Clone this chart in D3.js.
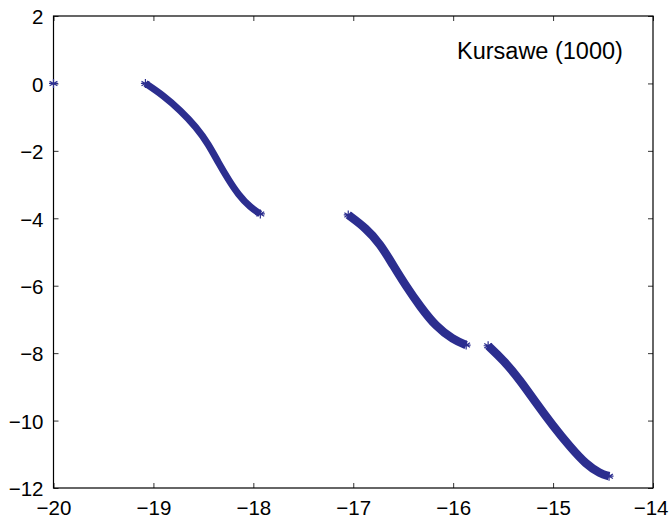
<!DOCTYPE html>
<html>
<head>
<meta charset="utf-8">
<script src="https://cdn.jsdelivr.net/npm/d3@7"></script>
<style>
  body { margin: 0; background: #fff; }
  svg text { font-family: "Liberation Sans", Arial, Helvetica, sans-serif; fill: #000; }
</style>
</head>
<body>
<div class="C"></div>
<script>
// Kursawe front, points (f1, f2)
var isolated = [[-20.0, 0.0]];
var seg1 = [[-19.08, 0.0], [-18.90, -0.36], [-18.73, -0.80], [-18.57, -1.30], [-18.45, -1.80],
            [-18.35, -2.35], [-18.25, -2.85], [-18.15, -3.30], [-18.03, -3.68], [-17.93, -3.87]];
var seg2 = [[-17.05, -3.90], [-16.87, -4.30], [-16.73, -4.76], [-16.60, -5.40], [-16.47, -6.02],
            [-16.33, -6.62], [-16.17, -7.22], [-16.00, -7.60], [-15.87, -7.76]];
var seg3 = [[-15.65, -7.78], [-15.50, -8.20], [-15.33, -8.80], [-15.17, -9.48], [-15.00, -10.16],
            [-14.83, -10.78], [-14.67, -11.30], [-14.53, -11.57], [-14.44, -11.65]];
var xTicks = [-20, -19, -18, -17, -16, -15, -14];
var yTicks = [2, 0, -2, -4, -6, -8, -10, -12];
var label = 'Kursawe (1000)';

var width = 669, height = 518;
var blue = '#2c2e8f';

var svg = d3.select('.C').append('svg').attr('width', width).attr('height', height);

var x = d3.scaleLinear().domain([-20, -14]).range([53.5, 653]);
var y = d3.scaleLinear().domain([-12, 2]).range([488, 16]);

var fmt = d3.format('d');

// axes, ticks pointing inwards on all four sides
var gx = svg.append('g').attr('transform', 'translate(0,488)')
    .call(d3.axisBottom(x).tickValues(xTicks).tickFormat(fmt).tickSize(-5).tickPadding(13));
var gy = svg.append('g').attr('transform', 'translate(53.5,0)')
    .call(d3.axisLeft(y).tickValues(yTicks).tickFormat(fmt).tickSize(-5).tickPadding(10));
var gt = svg.append('g').attr('transform', 'translate(0,16)')
    .call(d3.axisTop(x).tickValues(xTicks).tickFormat('').tickSize(-5));
var gr = svg.append('g').attr('transform', 'translate(653,0)')
    .call(d3.axisRight(y).tickValues(yTicks).tickFormat('').tickSize(-5));

[gx, gy, gt, gr].forEach(function (g) {
    g.select('.domain').remove();
    g.selectAll('line').attr('stroke', '#333').attr('stroke-width', 1);
    g.selectAll('text').style('font-size', '20.5px').attr('fill', '#000')
        .style('font-family', '"Liberation Sans", Arial, Helvetica, sans-serif');
});
gx.selectAll('text').attr('dy', '0.69em');
gy.selectAll('text').attr('dy', '0.38em');
// last label sits against the right edge of the window
gx.selectAll('text').filter(function (d) { return d === -14; })
    .attr('text-anchor', 'end').attr('x', 15);

// frame
svg.append('rect')
    .attr('x', x(-20)).attr('y', y(2))
    .attr('width', x(-14) - x(-20)).attr('height', y(-12) - y(2))
    .attr('fill', 'none').attr('stroke', '#000').attr('stroke-width', 1.2);

// dense bands of markers drawn as thick curves through the read points
var line = d3.line()
    .x(function (d) { return x(d[0]); })
    .y(function (d) { return y(d[1]); })
    .curve(d3.curveBasis);

var bands = svg.append('g');
[[seg1, 7], [seg2, 8.5], [seg3, 8.5]].forEach(function (s) {
    bands.append('path').datum(s[0])
        .attr('d', line)
        .attr('fill', 'none')
        .attr('stroke', blue)
        .attr('stroke-width', s[1])
        .attr('stroke-linecap', 'butt');
});

// asterisk markers
function star(r) {
    var p = '';
    for (var i = 0; i < 3; i++) {
        var a = Math.PI / 2 + i * Math.PI / 3;
        var dx = r * Math.cos(a), dy = r * Math.sin(a);
        p += 'M' + (-dx) + ',' + (-dy) + 'L' + dx + ',' + dy;
    }
    return p + 'M' + (-r) + ',0L' + r + ',0';
}

var ends = isolated.concat([seg1[0], seg1[seg1.length - 1], seg2[0], seg2[seg2.length - 1],
                            seg3[0], seg3[seg3.length - 1]]);
svg.append('g').selectAll('.mark')
    .data(ends)
    .enter()
    .append('path')
    .attr('class', 'mark')
    .attr('transform', function (d) { return 'translate(' + x(d[0]) + ',' + y(d[1]) + ')'; })
    .attr('d', star(4.5))
    .attr('stroke', blue)
    .attr('stroke-width', 1.2)
    .attr('fill', 'none');

svg.append('text').text(label)
    .attr('x', 457).attr('y', 59)
    .style('font-size', '23.5px');
</script>
</body>
</html>
